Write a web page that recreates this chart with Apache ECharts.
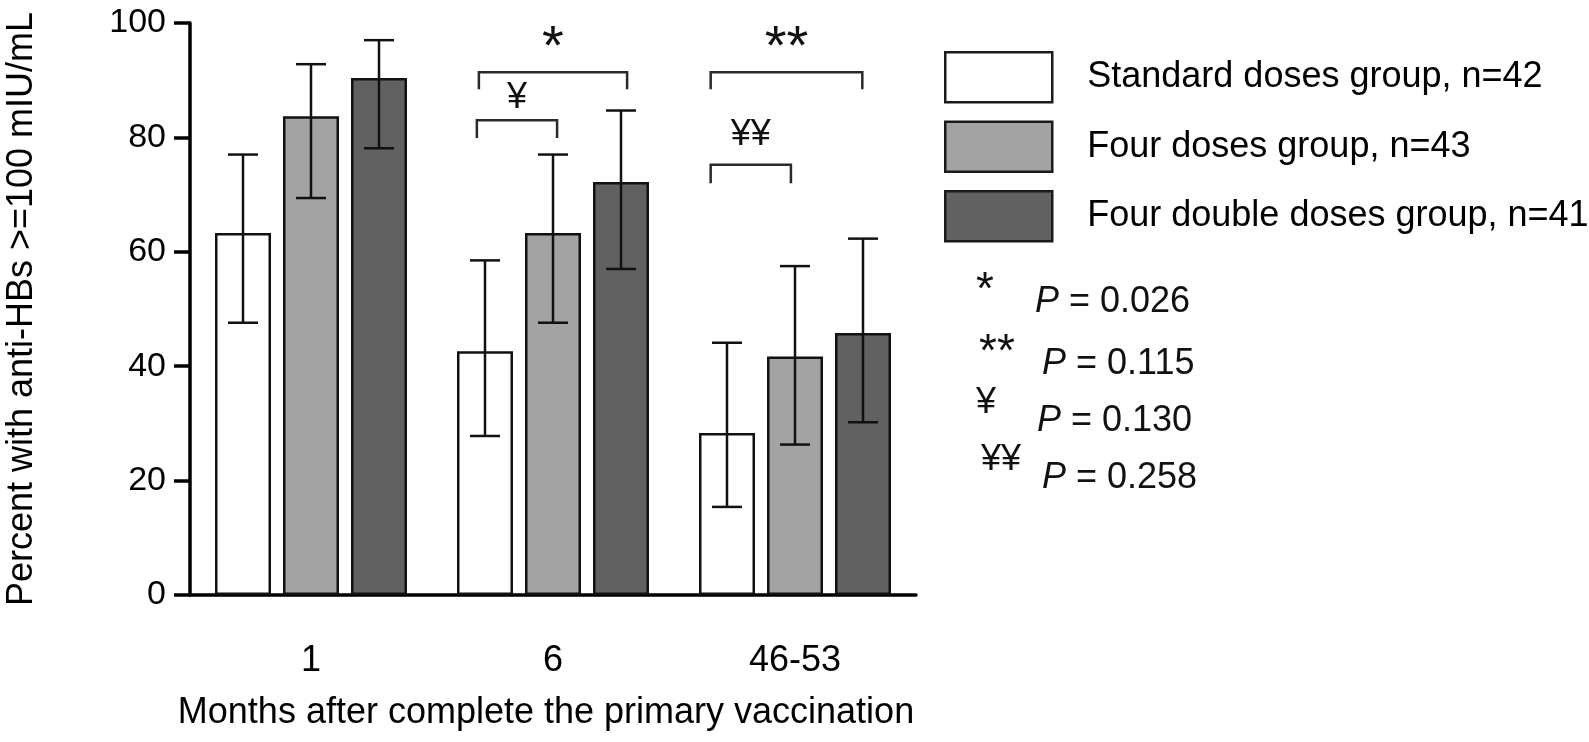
<!DOCTYPE html>
<html>
<head>
<meta charset="utf-8">
<title>anti-HBs >=100 mIU/mL</title>
<script src="https://cdn.jsdelivr.net/npm/echarts@6/dist/echarts.min.js"></script>
<style>
  html, body { margin: 0; padding: 0; background: #fff; }
  #chart { width: 1589px; height: 742px; }
</style>
</head>
<body>
<div id="chart"></div>
<script>
// categories (months after primary vaccination)
var months = ['1', '6', '46-53'];
var groupNames = ['Standard doses group, n=42', 'Four doses group, n=43', 'Four double doses group, n=41'];

// percent with anti-HBs >= 100 mIU/mL, and error bar limits
var standardPct = [63.3, 42.6, 28.3];
var standardLow = [47.6, 27.8, 15.4];
var standardHigh = [77.0, 58.5, 44.1];

var fourPct = [83.7, 63.3, 41.7];
var fourLow = [69.4, 47.6, 26.3];
var fourHigh = [92.8, 77.0, 57.5];

var doublePct = [90.4, 72.2, 45.8];
var doubleLow = [78.1, 57.0, 30.2];
var doubleHigh = [97.0, 84.7, 62.3];

var yTicks = [0, 20, 40, 60, 80, 100];

// significance brackets: category, from/to bar slot, top / leg value, mark, mark value
var brackets = [
  [1, -1.09, 1.09, 91.4, 88.4, '*', 95.5],
  [1, -1.12, 0.06, 83.0, 79.9, '¥', 86.8],
  [2, -1.24, 0.99, 91.4, 88.4, '**', 95.5],
  [2, -1.24, -0.06, 75.2, 72.0, '¥¥', 80.4]
];

// p values listed beside the chart
var pMarks = ['*', '**', '¥', '¥¥'];
var pTexts = ['0.026', '0.115', '0.130', '0.258'];

var FONT = '"Liberation Sans", Arial, sans-serif';
var BAR_W = 56;
var BAR_GAP = 12;
var CAP_W = 30;
var colors = ['#ffffff', '#a3a3a3', '#616161'];

var chart = echarts.init(document.getElementById('chart'));

function errorBars(slot) {
  return function (params, api) {
    var cat = api.value(0);
    var lo = api.coord([cat, api.value(1)]);
    var hi = api.coord([cat, api.value(2)]);
    var x = lo[0] + (slot - 1) * (BAR_W + BAR_GAP);
    var h = CAP_W / 2;
    var st = { stroke: '#111', lineWidth: 2.5, fill: null };
    return {
      type: 'group',
      children: [
        { type: 'line', shape: { x1: x, y1: hi[1], x2: x, y2: lo[1] }, style: st },
        { type: 'line', shape: { x1: x - h, y1: hi[1], x2: x + h, y2: hi[1] }, style: st },
        { type: 'line', shape: { x1: x - h, y1: lo[1], x2: x + h, y2: lo[1] }, style: st }
      ]
    };
  };
}

function bracketItem(params, api) {
  var b = brackets[params.dataIndex];
  var step = BAR_W + BAR_GAP;
  var top = api.coord([b[0], b[3]]);
  var leg = api.coord([b[0], b[4]]);
  var mark = api.coord([b[0], b[6]]);
  var x1 = top[0] + b[1] * step;
  var x2 = top[0] + b[2] * step;
  var isStar = b[5].indexOf('*') >= 0;
  return {
    type: 'group',
    children: [
      {
        type: 'polyline',
        shape: { points: [[x1, leg[1]], [x1, top[1]], [x2, top[1]], [x2, leg[1]]] },
        style: { stroke: '#2a2a2a', lineWidth: 2.5, fill: null }
      },
      {
        type: 'text',
        x: (x1 + x2) / 2,
        y: mark[1],
        style: {
          text: b[5],
          fill: '#111',
          font: (isStar ? '56px ' : '36px ') + FONT,
          align: 'center',
          verticalAlign: 'middle'
        }
      }
    ]
  };
}

function zip3(a, b, c) {
  return a.map(function (v, i) { return [i, b[i], c[i]]; });
}

var pGraphics = [];
var pMarkPos = [[985, 291], [997, 353], [986, 403], [1001, 460]];
var pTextPos = [[1035, 302], [1042, 364], [1037, 421], [1042, 478]];
pMarks.forEach(function (m, i) {
  pGraphics.push({
    type: 'text',
    x: pMarkPos[i][0],
    y: pMarkPos[i][1],
    style: {
      text: m,
      fill: '#111',
      font: (m.indexOf('*') >= 0 ? '46px ' : '36px ') + FONT,
      align: 'center',
      verticalAlign: 'middle'
    }
  });
  pGraphics.push({
    type: 'text',
    x: pTextPos[i][0],
    y: pTextPos[i][1],
    style: {
      text: '{i|P} = ' + pTexts[i],
      fill: '#111',
      font: '36px ' + FONT,
      verticalAlign: 'middle',
      rich: { i: { fontStyle: 'italic', fontSize: 36, fontFamily: FONT, fill: '#111' } }
    }
  });
});

var option = {
  animation: false,
  backgroundColor: '#fff',
  textStyle: { fontFamily: FONT, color: '#000' },
  grid: { left: 190, right: 673, top: 23, bottom: 147 },
  legend: {
    data: groupNames,
    orient: 'vertical',
    left: 944,
    top: 51,
    padding: 0,
    icon: 'rect',
    itemWidth: 107,
    itemHeight: 50,
    itemGap: 17,
    selectedMode: false,
    itemStyle: { borderColor: '#1a1a1a', borderWidth: 2.5 },
    textStyle: { fontSize: 36, color: '#000', fontFamily: FONT, padding: [0, 0, 0, 30] }
  },
  xAxis: {
    type: 'category',
    data: months,
    name: 'Months after complete the primary vaccination',
    nameLocation: 'middle',
    nameGap: 100,
    nameTextStyle: { fontSize: 36, color: '#000', fontFamily: FONT, padding: [0, 14, 0, 0] },
    axisLine: { lineStyle: { color: '#000', width: 3.5 } },
    axisTick: { alignWithLabel: true, length: 18, lineStyle: { color: '#000', width: 3.5 } },
    axisLabel: { fontSize: 36, color: '#000', margin: 48, fontFamily: FONT },
    splitLine: { show: false }
  },
  yAxis: {
    type: 'value',
    min: yTicks[0],
    max: yTicks[yTicks.length - 1],
    interval: yTicks[1] - yTicks[0],
    name: 'Percent with anti-HBs >=100 mIU/mL',
    nameLocation: 'middle',
    nameGap: 150,
    nameRotate: 90,
    nameTextStyle: { fontSize: 36, color: '#000', fontFamily: FONT },
    axisLine: { show: true, lineStyle: { color: '#000', width: 3.5 } },
    axisTick: { show: true, length: 16, lineStyle: { color: '#000', width: 3.5 } },
    axisLabel: { fontSize: 34, color: '#000', margin: 24, fontFamily: FONT },
    splitLine: { show: false }
  },
  series: [
    {
      name: groupNames[0], type: 'bar', data: standardPct,
      barWidth: BAR_W, barGap: (BAR_GAP / BAR_W * 100) + '%',
      itemStyle: { color: colors[0], borderColor: '#111', borderWidth: 2.5 }
    },
    {
      name: groupNames[1], type: 'bar', data: fourPct,
      barWidth: BAR_W, barGap: (BAR_GAP / BAR_W * 100) + '%',
      itemStyle: { color: colors[1], borderColor: '#111', borderWidth: 2.5 }
    },
    {
      name: groupNames[2], type: 'bar', data: doublePct,
      barWidth: BAR_W, barGap: (BAR_GAP / BAR_W * 100) + '%',
      itemStyle: { color: colors[2], borderColor: '#111', borderWidth: 2.5 }
    },
    { type: 'custom', z: 10, renderItem: errorBars(0), data: zip3(months, standardLow, standardHigh) },
    { type: 'custom', z: 10, renderItem: errorBars(1), data: zip3(months, fourLow, fourHigh) },
    { type: 'custom', z: 10, renderItem: errorBars(2), data: zip3(months, doubleLow, doubleHigh) },
    {
      type: 'custom', z: 10, renderItem: bracketItem,
      data: brackets.map(function (b) { return [b[0], b[3]]; })
    }
  ],
  graphic: pGraphics
};

chart.setOption(option);
</script>
</body>
</html>
